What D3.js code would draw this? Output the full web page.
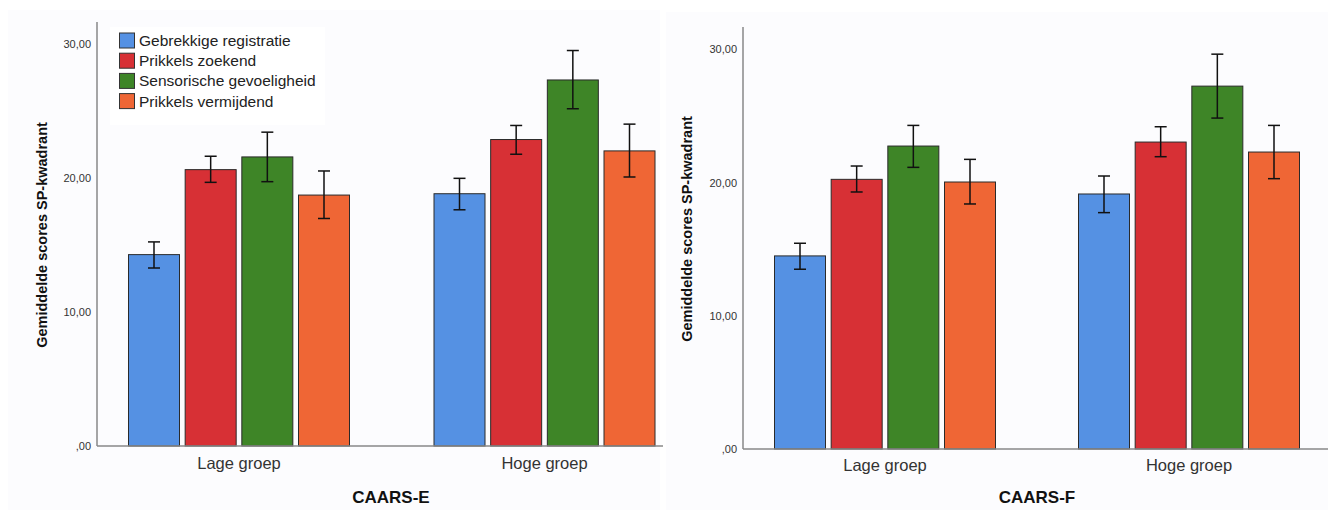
<!DOCTYPE html>
<html><head><meta charset="utf-8">
<script src="https://cdn.jsdelivr.net/npm/d3@7"></script>
<style>body{margin:0;background:#fff;}svg{display:block;font-family:Arial,"Liberation Sans",sans-serif;}</style>
</head><body>
<svg id="c" width="1328" height="512"></svg>
<script>
const groups = ["Lage groep", "Hoge groep"];
const series = ["Gebrekkige registratie", "Prikkels zoekend", "Sensorische gevoeligheid", "Prikkels vermijdend"];
const colors = ["#5591e3", "#d73035", "#3e8527", "#ef6635"];
const yTicks = [0, 10, 20, 30];
const tickLabels = [",00", "10,00", "20,00", "30,00"];

// CAARS-E: means, lower, upper per series [Lage, Hoge]
const meanE = [[14.3, 18.85], [20.65, 22.9], [21.6, 27.35], [18.75, 22.05]];
const lowE  = [[13.3, 17.65], [19.7, 21.8], [19.75, 25.2], [17.0, 20.1]];
const highE = [[15.25, 20.0], [21.65, 23.95], [23.45, 29.55], [20.55, 24.05]];

// CAARS-F
const meanF = [[14.5, 19.15], [20.25, 23.05], [22.75, 27.25], [20.05, 22.3]];
const lowF  = [[13.5, 17.75], [19.3, 21.95], [21.15, 24.85], [18.4, 20.3]];
const highF = [[15.45, 20.5], [21.25, 24.2], [24.3, 29.65], [21.75, 24.3]];

const svg = d3.select("#c");
svg.append("rect").attr("x",8).attr("y",10).attr("width",652).attr("height",500).attr("fill","#fcfcfe");
svg.append("rect").attr("x",666).attr("y",12).attr("width",662).attr("height",498).attr("fill","#fcfcfe");

function chart(cfg) {
  const g = svg.append("g");
  const y = d3.scaleLinear().domain([0, 30]).range([cfg.y0, cfg.y30]);
  const x0 = d3.scalePoint().domain(groups).range(cfg.centers);
  const x1 = d3.scaleBand().domain(series).range([-110.5, 110.5]).paddingInner(0.1);

  g.append("line").attr("x1", cfg.axisX).attr("x2", cfg.axisX)
    .attr("y1", cfg.axisTop).attr("y2", y(0)).attr("stroke", "#888").attr("stroke-width", 1.5);

  series.forEach((s, si) => {
    groups.forEach((gr, gi) => {
      const v = cfg.mean[si][gi];
      const bx = x0(gr) + x1(s);
      g.append("rect").attr("x", bx).attr("y", y(v))
        .attr("width", x1.bandwidth()).attr("height", y(0) - y(v))
        .attr("fill", colors[si]).attr("stroke", "#2a2a2a").attr("stroke-width", 1);
      const cx = bx + x1.bandwidth() / 2;
      const lo = y(cfg.low[si][gi]), hi = y(cfg.high[si][gi]);
      g.append("line").attr("x1", cx).attr("x2", cx).attr("y1", hi).attr("y2", lo)
        .attr("stroke", "#111").attr("stroke-width", 1.5);
      [hi, lo].forEach(yy => g.append("line").attr("x1", cx - 6).attr("x2", cx + 6)
        .attr("y1", yy).attr("y2", yy).attr("stroke", "#111").attr("stroke-width", 1.5));
    });
  });

  g.append("line").attr("x1", cfg.axisX).attr("x2", cfg.axisRight)
    .attr("y1", y(0)).attr("y2", y(0)).attr("stroke", "#888").attr("stroke-width", 1.5);

  yTicks.forEach((t, i) => {
    g.append("text").attr("x", cfg.axisX - 6).attr("y", y(t)).attr("dy", "0.35em")
      .attr("text-anchor", "end").attr("font-size", 11).attr("fill", "#333").text(tickLabels[i]);
  });

  groups.forEach(gr => {
    g.append("text").attr("x", x0(gr)).attr("y", cfg.catY).attr("text-anchor", "middle")
      .attr("font-size", 16.5).attr("fill", "#333").text(gr);
  });

  g.append("text").attr("transform", `translate(${cfg.yTitleX},${cfg.yTitleY}) rotate(-90)`)
    .attr("text-anchor", "middle").attr("font-size", 14.5).attr("font-weight", "bold")
    .attr("fill", "#111").text("Gemiddelde scores SP-kwadrant");
  g.append("text").attr("x", cfg.xTitleX).attr("y", cfg.xTitleY).attr("text-anchor", "middle")
    .attr("font-size", 17).attr("font-weight", "bold").attr("fill", "#111").text(cfg.xTitle);
  return g;
}

chart({ mean: meanE, low: lowE, high: highE, y0: 446, y30: 44.5, centers: [239, 544.5],
  axisX: 97, axisTop: 22, axisRight: 663, catY: 469, yTitleX: 47, yTitleY: 235,
  xTitleX: 391, xTitleY: 503, xTitle: "CAARS-E" });
chart({ mean: meanF, low: lowF, high: highF, y0: 449, y30: 49.5, centers: [885, 1189],
  axisX: 743, axisTop: 27, axisRight: 1328, catY: 471, yTitleX: 692, yTitleY: 229,
  xTitleX: 1037, xTitleY: 503, xTitle: "CAARS-F" });

const lg = svg.append("g");
lg.append("rect").attr("x", 110).attr("y", 27).attr("width", 215).attr("height", 98).attr("fill", "#fff");
series.forEach((s, i) => {
  const yy = 40.5 + i * 20.2;
  lg.append("rect").attr("x", 119.5).attr("y", yy - 7.5).attr("width", 15).attr("height", 15)
    .attr("fill", colors[i]).attr("stroke", "#333").attr("stroke-width", 1);
  lg.append("text").attr("x", 139).attr("y", yy).attr("dy", "0.36em").attr("font-size", 15.5)
    .attr("fill", "#222").text(s);
});
</script>
</body></html>
